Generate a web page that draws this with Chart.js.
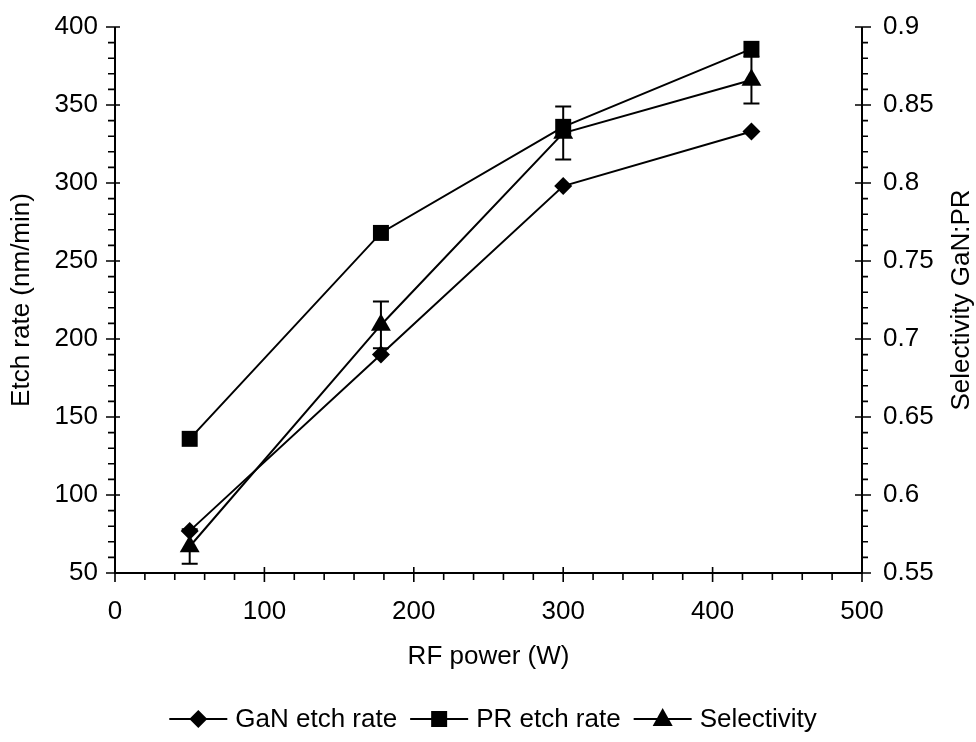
<!DOCTYPE html>
<html>
<head>
<meta charset="utf-8">
<script src="https://cdn.jsdelivr.net/npm/chart.js@4/dist/chart.umd.min.js"></script>
<style>
  html, body { margin: 0; padding: 0; background: #fff; }
  #wrap { width: 976px; height: 742px; position: relative; }
</style>
</head>
<body>
<div id="wrap"><canvas id="c" width="976" height="742"></canvas></div>
<script>
// RF power sweep: etch rates of GaN and photoresist, and GaN:PR selectivity
const rfPower        = [50, 178, 300, 426];
const ganRate        = [77, 190, 298, 333];
const prRate         = [136, 268, 336, 386];
const selectivity    = [0.567, 0.709, 0.832, 0.866];
const selectivityErr = [0.011, 0.015, 0.017, 0.015];

const xTickLabels     = ['0', '100', '200', '300', '400', '500'];
const leftTickLabels  = ['50', '100', '150', '200', '250', '300', '350', '400'];
const rightTickLabels = ['0.55', '0.6', '0.65', '0.7', '0.75', '0.8', '0.85', '0.9'];

const seriesNames = ['GaN etch rate', 'PR etch rate', 'Selectivity'];

const FONT = 'Liberation Sans, Arial, sans-serif';
const FS = 26;

// build major + minor tick values from integer steps
function stepTicks(lo, hi, step, div) {
  const out = [];
  for (let v = lo; v <= hi + 1e-9; v += step) out.push({ value: v / div });
  return out;
}
function labelFor(list, v) {
  const hit = list.find(s => Math.abs(Number(s) - v) < 1e-6);
  return hit === undefined ? '' : hit;
}
// keep the plot frame fixed: no extra room reserved for end labels
function noEdgePadding(s) {
  s.paddingTop = 0; s.paddingBottom = 0; s.paddingLeft = 0; s.paddingRight = 0;
}

const xMajor = xTickLabels.map(Number);
const yMajor = leftTickLabels.map(Number);
const y2Major = rightTickLabels.map(Number);

function marker(ctx, st, cx, cy) {
  ctx.beginPath();
  if (st === 'diamond') {
    ctx.moveTo(cx, cy - 9); ctx.lineTo(cx + 9, cy); ctx.lineTo(cx, cy + 9); ctx.lineTo(cx - 9, cy);
  } else if (st === 'square') {
    ctx.rect(cx - 8, cy - 8, 16, 16);
  } else {
    ctx.moveTo(cx, cy - 11); ctx.lineTo(cx + 10, cy + 7); ctx.lineTo(cx - 10, cy + 7);
  }
  ctx.closePath();
  ctx.fill();
}

// axes, tick marks, error bars, right title and legend
const frame = {
  id: 'frame',
  beforeDatasetsDraw(chart) {
    const ctx = chart.ctx;
    const xs = chart.scales.x, y2 = chart.scales.y2;
    ctx.save();
    ctx.strokeStyle = '#000';
    ctx.lineWidth = 2;
    for (let i = 0; i < rfPower.length; i++) {
      const px = xs.getPixelForValue(rfPower[i]);
      const t = y2.getPixelForValue(selectivity[i] + selectivityErr[i]);
      const b = y2.getPixelForValue(selectivity[i] - selectivityErr[i]);
      ctx.beginPath();
      ctx.moveTo(px, t); ctx.lineTo(px, b);
      ctx.moveTo(px - 8, t); ctx.lineTo(px + 8, t);
      ctx.moveTo(px - 8, b); ctx.lineTo(px + 8, b);
      ctx.stroke();
    }
    ctx.restore();
  },
  afterDraw(chart) {
    const ctx = chart.ctx;
    const a = chart.chartArea;
    const xs = chart.scales.x, ys = chart.scales.y, y2 = chart.scales.y2;
    ctx.save();
    ctx.strokeStyle = '#000';
    ctx.lineWidth = 2;
    ctx.beginPath();
    ctx.moveTo(a.left, a.top); ctx.lineTo(a.left, a.bottom); ctx.lineTo(a.right, a.bottom); ctx.lineTo(a.right, a.top);
    ctx.stroke();

    ctx.lineWidth = 1.6;
    ctx.beginPath();
    xs.ticks.forEach(t => {
      const p = xs.getPixelForValue(t.value);
      const major = xMajor.some(m => Math.abs(m - t.value) < 1e-6);
      ctx.moveTo(p, a.bottom - (major ? 6 : 0));
      ctx.lineTo(p, a.bottom + (major ? 9 : 7));
    });
    ys.ticks.forEach(t => {
      const p = ys.getPixelForValue(t.value);
      const major = yMajor.some(m => Math.abs(m - t.value) < 1e-6);
      ctx.moveTo(a.left - (major ? 9 : 7), p);
      ctx.lineTo(a.left + (major ? 5 : 0), p);
    });
    y2.ticks.forEach(t => {
      const p = y2.getPixelForValue(t.value);
      const major = y2Major.some(m => Math.abs(m - t.value) < 1e-6);
      ctx.moveTo(a.right - (major ? 7 : 0), p);
      ctx.lineTo(a.right + (major ? 9 : 6), p);
    });
    ctx.stroke();

    // right-hand axis title, reading bottom to top
    ctx.fillStyle = '#000';
    ctx.font = FS + 'px ' + FONT;
    ctx.textAlign = 'center';
    ctx.textBaseline = 'middle';
    ctx.save();
    ctx.translate(962, (a.top + a.bottom) / 2);
    ctx.rotate(-Math.PI / 2);
    ctx.fillText('Selectivity GaN:PR', 0, 0);
    ctx.restore();

    // legend, centred under the chart: line-through markers followed by series names
    const styles = ['diamond', 'square', 'triangle'];
    const ly = 719;
    const lineLen = 58, gapText = 8, gapItem = 13;
    const widths = seriesNames.map(s => ctx.measureText(s).width);
    let total = 0;
    widths.forEach((w, i) => { total += lineLen + gapText + w + (i < 2 ? gapItem : 0); });
    let x = 493 - total / 2;
    ctx.textAlign = 'left';
    styles.forEach((st, i) => {
      ctx.lineWidth = 2;
      ctx.beginPath();
      ctx.moveTo(x, ly); ctx.lineTo(x + lineLen, ly);
      ctx.stroke();
      marker(ctx, st, x + lineLen / 2, ly);
      ctx.fillText(seriesNames[i], x + lineLen + gapText, ly + 1);
      x += lineLen + gapText + widths[i] + gapItem;
    });
    ctx.restore();
  }
};

const tickFont = { family: FONT, size: FS };

new Chart(document.getElementById('c'), {
  type: 'line',
  data: {
    datasets: [
      {
        label: seriesNames[0],
        data: rfPower.map((p, i) => ({ x: p, y: ganRate[i] })),
        yAxisID: 'y',
        borderColor: '#000', backgroundColor: '#000', borderWidth: 2,
        pointStyle: 'rectRot', pointRadius: 9, pointBorderWidth: 0, tension: 0
      },
      {
        label: seriesNames[1],
        data: rfPower.map((p, i) => ({ x: p, y: prRate[i] })),
        yAxisID: 'y',
        borderColor: '#000', backgroundColor: '#000', borderWidth: 2,
        pointStyle: 'rect', pointRadius: 11.3, pointBorderWidth: 0, tension: 0
      },
      {
        label: seriesNames[2],
        data: rfPower.map((p, i) => ({ x: p, y: selectivity[i] })),
        yAxisID: 'y2',
        borderColor: '#000', backgroundColor: '#000', borderWidth: 2,
        pointStyle: 'triangle', pointRadius: 11.5, pointBorderWidth: 0, tension: 0
      }
    ]
  },
  options: {
    responsive: false,
    animation: false,
    events: [],
    layout: { padding: { top: 27, bottom: 70, left: 0, right: 0 } },
    plugins: { legend: { display: false }, tooltip: { enabled: false } },
    scales: {
      x: {
        type: 'linear', min: 0, max: 500,
        afterBuildTicks: s => { s.ticks = stepTicks(0, 500, 20, 1); },
        afterFit: s => { s.height = 99; noEdgePadding(s); },
        grid: { display: false, drawTicks: false },
        border: { display: false },
        ticks: {
          autoSkip: false, maxRotation: 0, color: '#000', font: tickFont, padding: 23,
          callback: v => labelFor(xTickLabels, v)
        },
        title: { display: true, text: 'RF power (W)', color: '#000', font: { family: FONT, size: FS, lineHeight: 1.2 }, padding: { top: 0, bottom: 0 } }
      },
      y: {
        type: 'linear', position: 'left', min: 50, max: 400,
        afterBuildTicks: s => { s.ticks = stepTicks(50, 400, 10, 1); },
        afterFit: s => { s.width = 115; noEdgePadding(s); },
        grid: { display: false, drawTicks: false },
        border: { display: false },
        ticks: {
          autoSkip: false, color: '#000', font: tickFont, padding: 17,
          callback: v => labelFor(leftTickLabels, v)
        },
        title: { display: true, text: 'Etch rate (nm/min)', color: '#000', font: { family: FONT, size: FS, lineHeight: 1.2 }, padding: { top: 6, bottom: 0 } }
      },
      y2: {
        type: 'linear', position: 'right', min: 0.55, max: 0.9,
        afterBuildTicks: s => { s.ticks = stepTicks(55, 90, 1, 100); },
        afterFit: s => { s.width = 114; noEdgePadding(s); },
        grid: { display: false, drawTicks: false },
        border: { display: false },
        ticks: {
          autoSkip: false, color: '#000', font: tickFont, padding: 21,
          callback: v => labelFor(rightTickLabels, v)
        }
      }
    }
  },
  plugins: [frame]
});
</script>
</body>
</html>
